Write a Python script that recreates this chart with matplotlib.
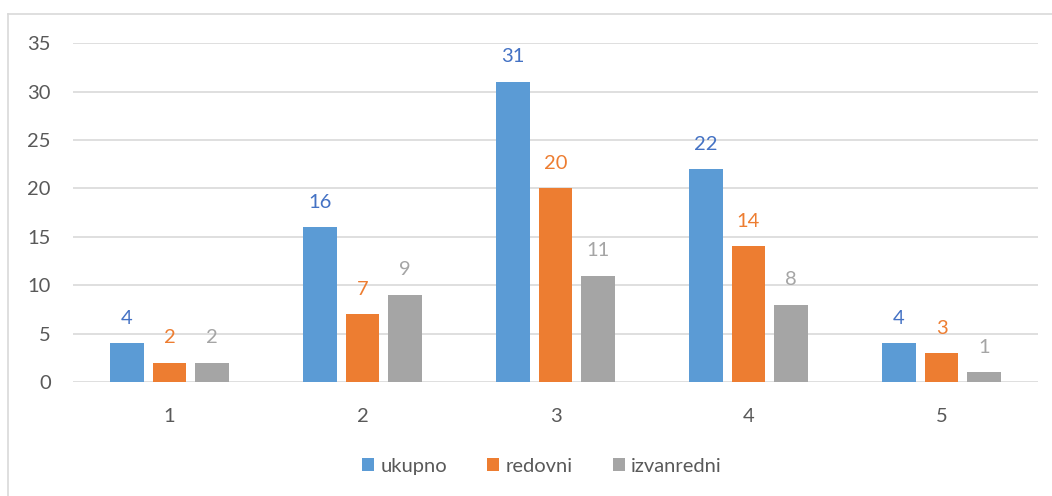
import matplotlib.pyplot as plt
import numpy as np
from matplotlib.lines import Line2D

categories = ["1", "2", "3", "4", "5"]
ukupno = [4, 16, 31, 22, 4]
redovni = [2, 7, 20, 14, 3]
izvanredni = [2, 9, 11, 8, 1]

series = [
    ("ukupno", ukupno, "#5B9BD5", "#4472C4"),
    ("redovni", redovni, "#ED7D31", "#ED7D31"),
    ("izvanredni", izvanredni, "#A5A5A5", "#A5A5A5"),
]

plt.rcParams['font.family'] = ['Lato', 'DejaVu Sans']
fs = 14.5

fig = plt.figure(figsize=(10.52, 4.96), dpi=100)
ax = fig.add_axes([0.0694, 0.2298, 0.9173, 0.6832])

x = np.arange(len(categories))
width = 0.172
step = 0.22

for i, (name, vals, col, lcol) in enumerate(series):
    pos = x + (i - 1) * step
    ax.bar(pos, vals, width, color=col, label=name, zorder=3)
    for p, v in zip(pos, vals):
        ax.annotate(str(v), (p, v), xytext=(0, 14), textcoords="offset points",
                    ha="center", va="baseline", fontsize=fs, color=lcol)

ax.set_xlim(-0.5, len(categories) - 0.5)
ax.set_ylim(0, 35)
ax.set_yticks(range(0, 36, 5))
ax.set_xticks(x)
ax.set_xticklabels(categories)
ax.yaxis.grid(True, color="#D9D9D9", linewidth=1.2, zorder=0)
ax.tick_params(axis="both", length=0, labelsize=fs, labelcolor="#595959")
ax.tick_params(axis="x", pad=19)
ax.tick_params(axis="y", pad=16)
for s in ax.spines.values():
    s.set_visible(False)

leg = ax.legend(loc="upper center", bbox_to_anchor=(0.486, -0.17), ncol=3, frameon=False,
                fontsize=fs, handlelength=0.6, handleheight=0.6, handletextpad=0.3,
                columnspacing=2.0)
for t in leg.get_texts():
    t.set_color("#595959")

# chart border
fig.add_artist(Line2D([8 / 1052, 8 / 1052], [0, 1 - 14 / 496], color="#D9D9D9", linewidth=1.2))
fig.add_artist(Line2D([8 / 1052, 1], [1 - 14 / 496, 1 - 14 / 496], color="#D9D9D9", linewidth=1.2))

fig.savefig("out.png", dpi=100)
